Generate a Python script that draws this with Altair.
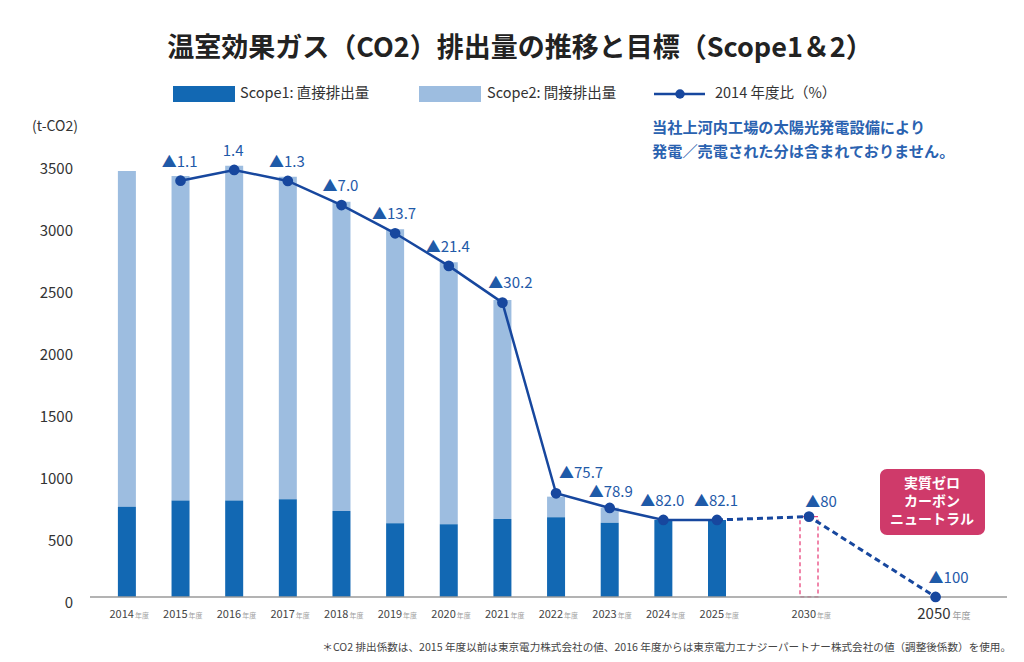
import altair as alt
import pandas as pd

# ---------------- data ----------------
bar_years = [2014, 2015, 2016, 2017, 2018, 2019, 2020, 2021, 2022, 2023, 2024, 2025]
scope1 = [728, 777, 777, 788, 694, 594, 586, 629, 643, 599, 621, 621]
scope2 = [2708, 2618, 2701, 2602, 2494, 2371, 2113, 1766, 166, 121, 0, 0]

line_years = [2015, 2016, 2017, 2018, 2019, 2020, 2021, 2022, 2023, 2024, 2025, 2030, 2050]
line_vals = [3357, 3444, 3355, 3161, 2933, 2670, 2374, 836, 718, 621, 621, 648, 0]
line_labels = ["▲1.1", "1.4", "▲1.3", "▲7.0", "▲13.7", "▲21.4", "▲30.2",
               "▲75.7", "▲78.9", "▲82.0", "▲82.1", "▲80", "▲100"]

axis_years = [2014, 2015, 2016, 2017, 2018, 2019, 2020, 2021, 2022, 2023, 2024, 2025, 2030]
y_ticks = [0, 500, 1000, 1500, 2000, 2500, 3000, 3500]

title_text = "温室効果ガス（CO2）排出量の推移と目標（Scope1＆2）"
legend_texts = ["Scope1: 直接排出量", "Scope2: 間接排出量", "2014 年度比（%）"]
note_lines = ["当社上河内工場の太陽光発電設備により", "発電／売電された分は含まれておりません。"]
box_lines = ["実質ゼロ", "カーボン", "ニュートラル"]
footnote = "＊CO2 排出係数は、2015 年度以前は東京電力株式会社の値、2016 年度からは東京電力エナジーパートナー株式会社の値（調整後係数）を使用。"
unit_label = "(t-CO2)"

# ---------------- tables ----------------
bars = pd.DataFrame({"year": bar_years, "s1": scope1, "s2": scope2})
bars["total"] = bars["s1"] + bars["s2"]
line = pd.DataFrame({"year": line_years, "v": line_vals, "lab": line_labels})
solid = line[line["year"] <= 2025]
dashed = line[line["year"] >= 2025]
target = line[line["year"] == 2030]
ticks = pd.DataFrame({"t": y_ticks})
xlab = pd.DataFrame({"year": axis_years, "txt": [str(y) for y in axis_years]})
x2050 = pd.DataFrame({"year": [2050], "txt": ["2050"]})

JP = "Noto Sans CJK JP"
C1 = "#1268b3"
C2 = "#9dbde0"
CL = "#17479e"
CT = "#1f5aa8"

W, H = 1008, 646
X = alt.X("year:Q", scale=alt.Scale(domain=[2014, 2025, 2030, 2050], range=[107, 709, 801, 929]), axis=None)
YS = alt.Scale(domain=[-460, 4750], nice=False, zero=False)


def Y(f):
    return alt.Y(f, scale=YS, axis=None)


base_b = alt.Chart(bars)
s1_bar = base_b.mark_bar(size=18, color=C1).encode(x=X, y=Y("s1:Q"), y2=alt.value(589))
s2_bar = base_b.mark_bar(size=18, color=C2).encode(x=X, y=Y("total:Q"), y2="s1:Q")

target_bar = alt.Chart(target).mark_bar(
    size=18, fill="transparent", stroke="#e8457d", strokeDash=[4, 3], strokeWidth=1.3
).encode(x=X, y=Y("v:Q"), y2=alt.value(589))

baseline = alt.Chart(ticks).transform_filter("datum.t == 0").mark_rule(
    color="#9a9a9a", strokeWidth=1.5
).encode(x=alt.value(82), x2=alt.value(999), y=Y("t:Q"))

solid_line = alt.Chart(solid).mark_line(color=CL, strokeWidth=2.5).encode(x=X, y=Y("v:Q"))
dash_line = alt.Chart(dashed).mark_line(color=CL, strokeWidth=3, strokeDash=[6, 4]).encode(x=X, y=Y("v:Q"))
dots = alt.Chart(line).mark_circle(color=CL, size=115, opacity=1).encode(x=X, y=Y("v:Q"))


def labels(cond, dx, dy):
    return alt.Chart(line).transform_filter(cond).mark_text(
        font=JP, fontSize=15, color=CT, dx=dx, dy=dy, align="center", baseline="middle"
    ).encode(x=X, y=Y("v:Q"), text="lab:N")


lab_a = labels("datum.year <= 2020 || datum.year == 2024 || datum.year == 2025", -1, -19)
lab_b = labels("datum.year == 2021", 8, -20)
lab_c = labels("datum.year == 2022", 25, -20)
lab_e = labels("datum.year == 2023", 1, -16)
lab_d = labels("datum.year == 2030", 12, -15)
lab_f = labels("datum.year == 2050", 13, -19)

ytick_labels = alt.Chart(ticks).mark_text(
    font=JP, fontSize=15, color="#333333", align="right", baseline="middle", dy=6
).encode(x=alt.value(65), y=Y("t:Q"), text=alt.Text("t:Q", format="d"))

unit = alt.Chart(pd.DataFrame({"t": [unit_label]})).mark_text(
    font=JP, fontSize=14, color="#333333", align="center", baseline="middle"
).encode(x=alt.value(47), y=alt.value(119), text="t:N")

xyear = alt.Chart(xlab).mark_text(
    font=JP, fontSize=11, color="#444444", align="right", baseline="middle", dx=7
).encode(x=X, y=alt.value(607), text="txt:N")
xnen = alt.Chart(xlab).mark_text(
    font=JP, fontSize=7, color="#a0a0a0", align="left", baseline="middle", dx=8, dy=1
).encode(x=X, y=alt.value(607), text=alt.value("年度"))
x50 = alt.Chart(x2050).mark_text(
    font=JP, fontSize=15, color="#333333", align="right", baseline="middle", dx=15
).encode(x=X, y=alt.value(606), text="txt:N")
x50n = alt.Chart(x2050).mark_text(
    font=JP, fontSize=9, color="#999999", align="left", baseline="middle", dx=17, dy=1
).encode(x=X, y=alt.value(607), text=alt.value("年度"))

title = alt.Chart(pd.DataFrame({"t": [title_text]})).mark_text(
    font=JP, fontSize=27, fontWeight="bold", color="#222222", align="center", baseline="middle"
).encode(x=alt.value(512), y=alt.value(41), text="t:N")

# legend
leg_rect1 = alt.Chart(pd.DataFrame({"a": [0]})).mark_rect(color=C1).encode(
    x=alt.value(165), x2=alt.value(227), y=alt.value(78), y2=alt.value(94))
leg_rect2 = alt.Chart(pd.DataFrame({"a": [0]})).mark_rect(color=C2).encode(
    x=alt.value(411), x2=alt.value(473), y=alt.value(78), y2=alt.value(94))
leg_line = alt.Chart(pd.DataFrame({"a": [0]})).mark_rule(color=CL, strokeWidth=2.5).encode(
    x=alt.value(646), x2=alt.value(697), y=alt.value(86))
leg_dot = alt.Chart(pd.DataFrame({"a": [0]})).mark_circle(color=CL, size=90, opacity=1).encode(
    x=alt.value(672), y=alt.value(86))
leg_t = alt.Chart(pd.DataFrame({"t": legend_texts, "x": [232, 479, 707]})).mark_text(
    font=JP, fontSize=14.5, color="#333333", align="left", baseline="middle"
).encode(x=alt.X("x:Q", scale=None, axis=None), y=alt.value(86), text="t:N")

note = alt.Chart(pd.DataFrame({"t": note_lines, "y": [120, 144]})).mark_text(
    font=JP, fontSize=15.2, fontWeight="bold", color="#2a62b0", align="left", baseline="middle"
).encode(x=alt.value(644), y=alt.Y("y:Q", scale=None, axis=None), text="t:N")

box = alt.Chart(pd.DataFrame({"a": [0]})).mark_rect(color="#cf3a6a", cornerRadius=7).encode(
    x=alt.value(872), x2=alt.value(977), y=alt.value(461), y2=alt.value(527))
box_t = alt.Chart(pd.DataFrame({"t": box_lines, "y": [476, 494, 512]})).mark_text(
    font=JP, fontSize=14, fontWeight="bold", color="white", align="center", baseline="middle"
).encode(x=alt.value(924), y=alt.Y("y:Q", scale=None, axis=None), text="t:N")

foot = alt.Chart(pd.DataFrame({"t": [footnote]})).mark_text(
    font=JP, fontSize=10.6, color="#444444", align="right", baseline="middle"
).encode(x=alt.value(1003), y=alt.value(640), text="t:N")

chart = alt.layer(
    s2_bar, s1_bar, target_bar, baseline, solid_line, dash_line, dots,
    lab_a, lab_b, lab_c, lab_e, lab_d, lab_f, ytick_labels, unit, xyear, xnen, x50, x50n,
    title, leg_rect1, leg_rect2, leg_line, leg_dot, leg_t, note, box, box_t, foot
).resolve_scale(x="shared", y="shared").properties(
    width=W, height=H, autosize=alt.AutoSizeParams(type="none"), padding=0, background="white"
).configure_view(stroke=None)

chart.save("out.html", embed_options={"renderer": "svg", "actions": False})
